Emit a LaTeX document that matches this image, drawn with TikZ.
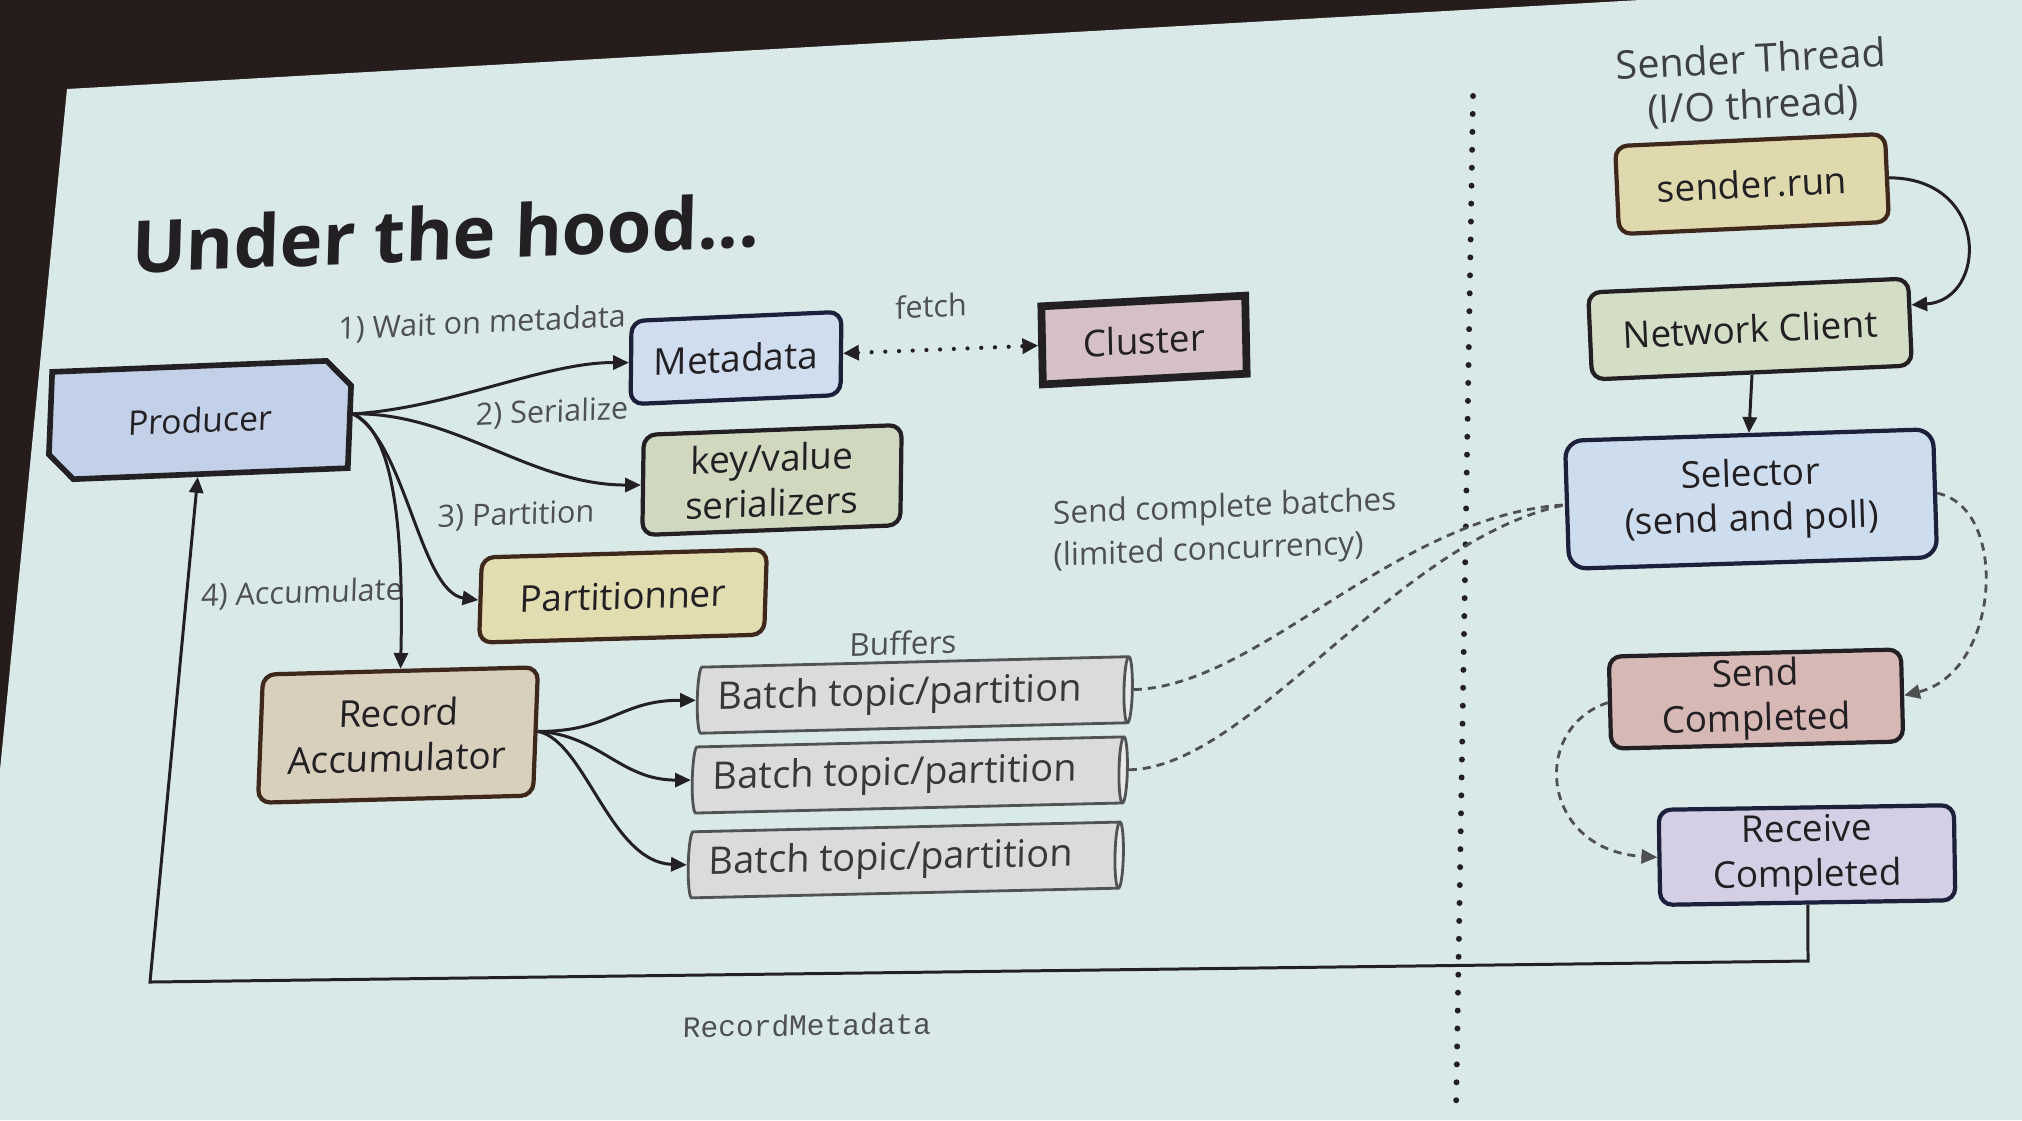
\documentclass[tikz,border=0pt]{standalone}
\usepackage{fontspec}
\setmainfont{Open Sans}
\newfontfamily\codefont{Liberation Mono}
\usetikzlibrary{shapes.misc,shapes.geometric,arrows.meta,calc}

\definecolor{framebg}{RGB}{38,28,28}
\definecolor{slidebg}{RGB}{217,233,232}
\definecolor{inkdark}{RGB}{35,32,35}
\definecolor{labelgray}{RGB}{78,80,82}
\definecolor{navyline}{RGB}{28,32,58}
\definecolor{brownline}{RGB}{62,40,28}
\definecolor{prodfill}{RGB}{194,209,232}
\definecolor{metafill}{RGB}{207,221,238}
\definecolor{kvfill}{RGB}{208,216,192}
\definecolor{partfill}{RGB}{226,221,176}
\definecolor{clusfill}{RGB}{213,192,202}
\definecolor{runfill}{RGB}{224,217,174}
\definecolor{ncfill}{RGB}{212,221,197}
\definecolor{selfill}{RGB}{206,221,238}
\definecolor{scfill}{RGB}{214,184,180}
\definecolor{rcfill}{RGB}{211,208,230}
\definecolor{rafill}{RGB}{216,207,189}
\definecolor{batchfill}{RGB}{218,219,219}
\definecolor{batchcap}{RGB}{230,234,234}
\definecolor{batchline}{RGB}{80,82,84}

\newcommand{\batchtext}{\hspace*{-0.12cm}Batch topic/partition\hspace*{0.12cm}}

\begin{document}
\begin{tikzpicture}[x=0.01cm, y=-0.01cm,
  tilt/.style 2 args={rotate=#1, xslant=#2},
  box/.style={draw=#1, line width=1.2pt, rounded corners=3.5pt, align=center,
    inner sep=0pt, font=\fontsize{10.5}{12.8}\selectfont, text=inkdark},
  lbl/.style={font=\fontsize{8.7}{10.5}\selectfont, text=labelgray, inner sep=0pt},
  tip/.style={-{Triangle[length=4.5pt,width=4pt]}},
  flow/.style={draw=inkdark, line width=0.85pt, tip},
  async/.style={draw=labelgray, line width=0.8pt, dash pattern=on 2.3pt off 1.7pt},
  batch/.style={cylinder, shape border rotate=0, aspect=0.22, draw=batchline,
    line width=0.8pt, cylinder uses custom fill, cylinder body fill=batchfill,
    cylinder end fill=batchcap, minimum height=4.35cm, minimum width=0.66cm,
    inner sep=0pt, font=\fontsize{10.8}{12.8}\selectfont, text=labelgray!70!black},
]
% frame and slide surface
\fill[framebg] (0,0) rectangle (2022,1120);
\fill[slidebg] (67,89) -- (1640,0) -- (2022,0) -- (2022,1120) -- (0,1120) -- (0,770) -- cycle;
\useasboundingbox (0,0) rectangle (2022,1120);

% title and thread caption
\node[tilt={2.4}{0.07}, font=\fontsize{20.6}{24}\selectfont\bfseries, text=inkdark, inner sep=0pt]
  (title) at (446,233) {Under the hood...};
\node[tilt={2.8}{0.0}, font=\fontsize{11.2}{13}\selectfont, text=labelgray!80!black, align=center, inner sep=0pt]
  (thread) at (1752,84) {Sender Thread\\(I/O thread)};

% producer side
\node[chamfered rectangle, chamfered rectangle corners={north east,south west},
  chamfered rectangle xsep=0.22cm, draw=inkdark, line width=1.6pt, fill=prodfill,
  minimum width=3.0cm, minimum height=1.08cm, inner sep=0pt,
  font=\fontsize{9.6}{12}\selectfont, text=inkdark, tilt={2.3}{0.08}]
  (prod) at (200,420) {Producer};
\node[box=navyline, fill=metafill, minimum width=2.1cm, minimum height=0.83cm, tilt={2.5}{0.055}]
  (meta) at (736,358) {Metadata};
\node[box=inkdark, fill=kvfill, minimum width=2.58cm, minimum height=1.0cm, tilt={2.2}{0.052}]
  (kv) at (772,480) {key/value\\serializers};
\node[box=brownline, fill=partfill, minimum width=2.85cm, minimum height=0.85cm, tilt={1.6}{0.06}]
  (part) at (623,596) {Partitionner};
\node[draw=inkdark, line width=2.2pt, fill=clusfill, minimum width=2.04cm, minimum height=0.78cm,
  inner sep=0pt, font=\fontsize{10.5}{12.8}\selectfont, text=inkdark, tilt={3.0}{0.033}]
  (clus) at (1144,340) {Cluster};
\node[box=brownline, fill=rafill, minimum width=2.75cm, minimum height=1.28cm, tilt={1.5}{0.065}]
  (ra) at (398,735) {Record\\Accumulator};

% buffers
\node[lbl, font=\fontsize{9}{11}\selectfont, tilt={1.5}{0.05}] (buf) at (903,643) {Buffers};
\node[batch, tilt={1.4}{0.045}] (b1) at (912,695) {\batchtext};
\node[batch, tilt={1.35}{0.045}] (b2) at (907,775) {\batchtext};
\node[batch, tilt={1.3}{0.045}] (b3) at (903,860) {\batchtext};

% sender thread side
\node[box=brownline, fill=runfill, minimum width=2.7cm, minimum height=0.88cm, tilt={2.6}{0.0}]
  (srun) at (1752,184) {sender.run};
\node[box=inkdark, fill=ncfill, minimum width=3.2cm, minimum height=0.87cm, tilt={2.5}{0.0}]
  (nc) at (1750,329) {Network Client};
\node[box=navyline, rounded corners=5pt, fill=selfill, minimum width=3.68cm, minimum height=1.28cm, tilt={1.8}{0.0}]
  (sel) at (1751,499) {Selector\\(send and poll)};
\node[box=inkdark, fill=scfill, minimum width=2.92cm, minimum height=0.92cm, tilt={1.4}{0.0}]
  (sc) at (1756,699) {Send\\Completed};
\node[box=navyline, fill=rcfill, minimum width=2.95cm, minimum height=0.95cm, tilt={0.9}{0.0}]
  (rc) at (1807,855) {Receive\\Completed};

% step labels
\node[lbl, tilt={2.5}{0.06}] (l1) at (482,324) {1) Wait on metadata};
\node[lbl, tilt={2.4}{0.06}] (l2) at (552,413) {2) Serialize};
\node[lbl, tilt={2.0}{0.06}] (l3) at (516,516) {3) Partition};
\node[lbl, tilt={1.8}{0.07}] (l4) at (302,594) {4) Accumulate};
\node[lbl, tilt={2.8}{0.04}] (lf) at (931,306) {fetch};
\node[lbl, font=\fontsize{9}{12}\selectfont, align=left, tilt={2.3}{0.03}]
  (lsend) at (1225,530) {Send complete batches\\(limited concurrency)};
\node[font=\codefont\fontsize{8.4}{10}\selectfont, text=labelgray, inner sep=0pt, tilt={0.8}{0.04}]
  (rmd) at (807,1025) {RecordMetadata};

% producer flows
\draw[flow] (prod.east) .. controls (450,408) and (545,362) .. (meta.west);
\draw[flow] (prod.east) .. controls (455,412) and (530,485) .. (kv.west);
\draw[flow] (prod.east) .. controls (405,440) and (420,592) .. (part.west);
\draw[flow] (prod.east) .. controls (392,430) and (404,520) .. (ra.north);

% metadata fetch
\draw[draw=inkdark, line width=1.2pt, line cap=round, dash pattern=on 0pt off 3.9pt,
  {Triangle[length=4.5pt,width=4.2pt]}-{Triangle[length=4.5pt,width=4.2pt]}]
  (meta.east) -- (clus.west);

% accumulator to buffers
\draw[flow] (ra.east) .. controls (610,732) and (620,700) .. (b1.west);
\draw[flow] (ra.east) .. controls (600,735) and (620,780) .. (b2.west);
\draw[flow] (ra.east) .. controls (585,740) and (610,862) .. (b3.west);

% thread divider
\coordinate (dvtop) at (1473,96);
\coordinate (dvbot) at (1456,1112);
\draw[draw=inkdark, line width=1.7pt, line cap=round, dash pattern=on 0pt off 5.1pt] (dvtop) -- (dvbot);

% batches sent by the selector
\draw[async] (b1.east) .. controls (1260,686) and (1395,515) .. (sel.west);
\draw[async] (b2.east) .. controls (1250,768) and (1395,540) .. (sel.west);

% sender loop
\draw[flow] (srun.east) .. controls (1990,178) and (1988,300) .. (nc.6);
\draw[flow] (nc.south) -- (sel.north);
\draw[async, tip] (sel.east) .. controls (2010,508) and (2000,672) .. (sc.east);
\draw[async, tip] (sc.west) .. controls (1530,728) and (1540,850) .. (rc.west);

% completion returned to the producer
\coordinate (rt1) at (1808,961);
\coordinate (rt2) at (150,982);
\draw[flow] (rc.south) -- (rt1) -- (rt2) -- (prod.south);
\end{tikzpicture}
\end{document}
